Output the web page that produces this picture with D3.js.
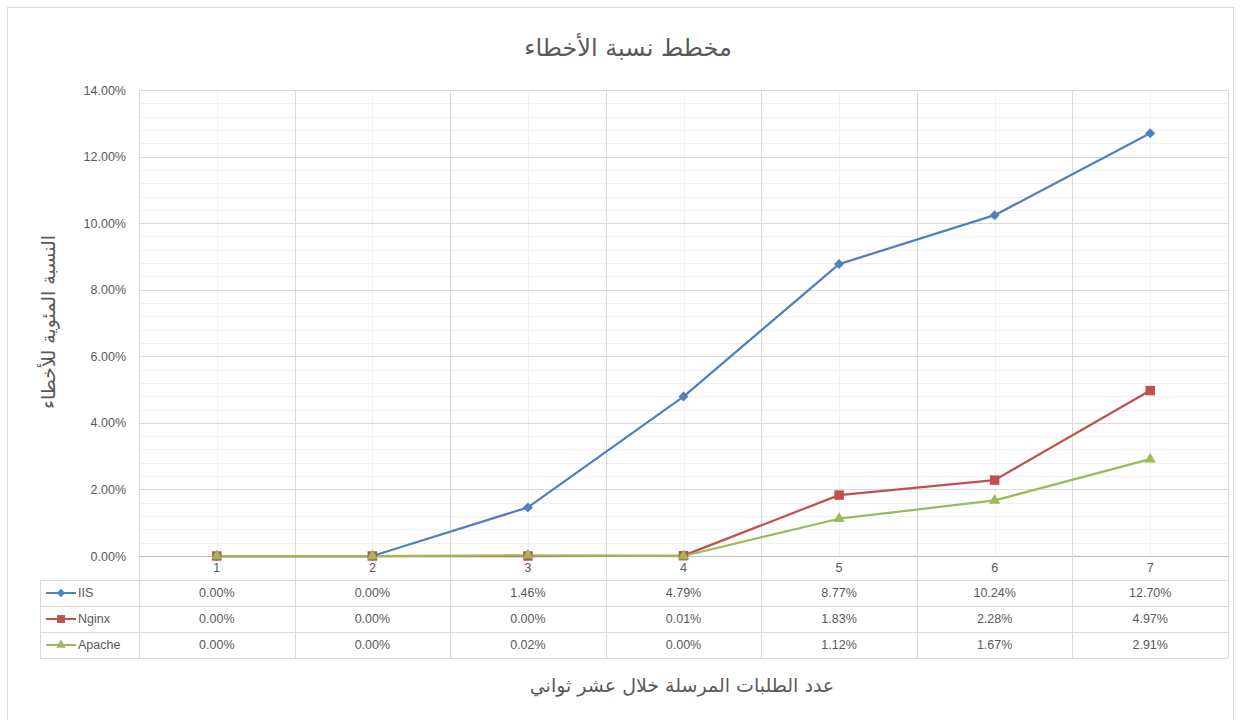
<!DOCTYPE html>
<html><head><meta charset="utf-8">
<script src="https://cdn.jsdelivr.net/npm/d3@7"></script>
<style>html,body{margin:0;padding:0;background:#fff}svg{display:block}</style>
</head><body><svg id="c" width="1240" height="720"></svg>
<script>
const categories = ["1","2","3","4","5","6","7"];
const seriesNames = ["IIS","Nginx","Apache"];
const iisValues = [0.0000,0.0000,0.0146,0.0479,0.0877,0.1024,0.1270];
const nginxValues = [0.0000,0.0000,0.0000,0.0001,0.0183,0.0228,0.0497];
const apacheValues = [0.0000,0.0000,0.0002,0.0000,0.0112,0.0167,0.0291];
const yTicks = [0,0.02,0.04,0.06,0.08,0.10,0.12,0.14];
const titleText = "مخطط نسبة الأخطاء";
const yTitle = "النسبة المئوية للأخطاء";
const xTitle = "عدد الطلبات المرسلة خلال عشر ثواني";

const series = [
  {name: seriesNames[0], values: iisValues, color: "#4F81BD", sym: d3.symbolSquare, size: 50, rot: 45},
  {name: seriesNames[1], values: nginxValues, color: "#C0504D", sym: d3.symbolSquare, size: 90, rot: 0},
  {name: seriesNames[2], values: apacheValues, color: "#9BBB59", sym: d3.symbolTriangle, size: 55, rot: 0}
];

const svg = d3.select("#c");
const L = 139, R = 1228, T = 90, B = 556;
const x = d3.scaleBand().domain(categories).range([L, R]).padding(0);
const y = d3.scaleLinear().domain([0, 0.14]).range([B, T]);
const fmt = d3.format(".2%");
const textCol = "#595959";
const font = "'Liberation Sans', Arial, sans-serif";
const arFont = "'DejaVu Sans', 'Noto Sans', sans-serif";
const small = 12.5;

// chart border
svg.append("rect").attr("x", 7.5).attr("y", 7.5).attr("width", 1226).attr("height", 720).attr("fill", "none").attr("stroke", "#D9D9D9");

// minor horizontal gridlines
const minorY = d3.range(0, 0.14 + 1e-9, 0.004);
svg.append("g").selectAll("line").data(minorY).join("line")
  .attr("x1", L).attr("x2", R).attr("y1", d => Math.round(y(d)) + 0.5).attr("y2", d => Math.round(y(d)) + 0.5)
  .attr("stroke", "#F0F0F0");
// minor vertical gridlines at category centres
svg.append("g").selectAll("line").data(categories).join("line")
  .attr("x1", d => Math.round(x(d) + x.bandwidth() / 2) + 0.5).attr("x2", d => Math.round(x(d) + x.bandwidth() / 2) + 0.5)
  .attr("y1", T).attr("y2", B).attr("stroke", "#F0F0F0");
// major horizontal gridlines
svg.append("g").selectAll("line").data(yTicks).join("line")
  .attr("x1", L).attr("x2", R).attr("y1", d => Math.round(y(d)) + 0.5).attr("y2", d => Math.round(y(d)) + 0.5)
  .attr("stroke", "#D9D9D9");
// major vertical gridlines at band boundaries
const bounds = categories.map(c => x(c)).concat([R]);
svg.append("g").selectAll("line").data(bounds).join("line")
  .attr("x1", d => Math.round(d) + 0.5).attr("x2", d => Math.round(d) + 0.5)
  .attr("y1", T).attr("y2", B).attr("stroke", "#D9D9D9");

// y axis labels
const yAxis = d3.axisLeft(y).tickValues(yTicks).tickFormat(fmt).tickSize(0).tickPadding(13);
const ga = svg.append("g").attr("transform", `translate(${L},0)`).call(yAxis);
ga.select(".domain").remove();
ga.selectAll("text").attr("fill", textCol).attr("font-size", small).attr("font-family", font);

// data table
const rowTop = 580, rowH = 26, tableLeft = 40;
const tbl = svg.append("g");
[B, rowTop, rowTop + rowH, rowTop + 2 * rowH, rowTop + 3 * rowH].forEach((yy, i) => {
  tbl.append("line").attr("x1", i === 0 ? L : tableLeft).attr("x2", R)
    .attr("y1", yy + 0.5).attr("y2", yy + 0.5).attr("stroke", i === 0 ? "#BFBFBF" : "#D9D9D9");
});
bounds.forEach(b => {
  tbl.append("line").attr("x1", Math.round(b) + 0.5).attr("x2", Math.round(b) + 0.5)
    .attr("y1", B).attr("y2", rowTop + 3 * rowH).attr("stroke", "#D9D9D9");
});
tbl.append("line").attr("x1", tableLeft + 0.5).attr("x2", tableLeft + 0.5)
  .attr("y1", rowTop).attr("y2", rowTop + 3 * rowH).attr("stroke", "#D9D9D9");
tbl.selectAll(".cat").data(categories).join("text").attr("class", "cat")
  .attr("x", d => x(d) + x.bandwidth() / 2).attr("y", 568).attr("dy", "0.35em")
  .attr("text-anchor", "middle").attr("fill", textCol).attr("font-size", small).attr("font-family", font).text(d => d);
series.forEach((s, i) => {
  const cy = rowTop + rowH * i + rowH / 2;
  tbl.append("g").selectAll("text").data(s.values).join("text")
    .attr("x", (d, j) => x(categories[j]) + x.bandwidth() / 2).attr("y", cy).attr("dy", "0.35em")
    .attr("text-anchor", "middle").attr("fill", textCol).attr("font-size", small).attr("font-family", font)
    .text(d => fmt(d));
  tbl.append("line").attr("x1", 46).attr("x2", 76).attr("y1", cy).attr("y2", cy)
    .attr("stroke", s.color).attr("stroke-width", 2);
  tbl.append("path").attr("d", d3.symbol(s.sym, s.size * 0.7)())
    .attr("transform", `translate(61,${cy}) rotate(${s.rot})`).attr("fill", s.color);
  tbl.append("text").attr("x", 78).attr("y", cy).attr("dy", "0.35em").attr("fill", textCol)
    .attr("font-size", small).attr("font-family", font).text(s.name);
});

// lines and markers
const line = d3.line().x((d, j) => x(categories[j]) + x.bandwidth() / 2).y(d => y(d));
series.forEach(s => {
  svg.append("path").datum(s.values).attr("d", line).attr("fill", "none")
    .attr("stroke", s.color).attr("stroke-width", 2.25).attr("stroke-linejoin", "round");
});
series.forEach(s => {
  svg.append("g").selectAll("path").data(s.values).join("path")
    .attr("d", d3.symbol(s.sym, s.size)())
    .attr("transform", (d, j) => `translate(${x(categories[j]) + x.bandwidth() / 2},${y(d)}) rotate(${s.rot})`)
    .attr("fill", s.color);
});

// titles
svg.append("text").attr("x", 628).attr("y", 48).attr("dy", "0.35em").attr("text-anchor", "middle")
  .attr("fill", textCol).attr("font-size", 24).attr("font-family", arFont).text(titleText);
svg.append("text").attr("transform", "translate(48,322) rotate(-90)").attr("dy", "0.35em").attr("text-anchor", "middle")
  .attr("fill", textCol).attr("font-size", 19).attr("font-family", arFont).text(yTitle);
svg.append("text").attr("x", 682).attr("y", 685).attr("dy", "0.35em").attr("text-anchor", "middle")
  .attr("fill", textCol).attr("font-size", 19).attr("font-family", arFont).text(xTitle);
</script></body></html>
